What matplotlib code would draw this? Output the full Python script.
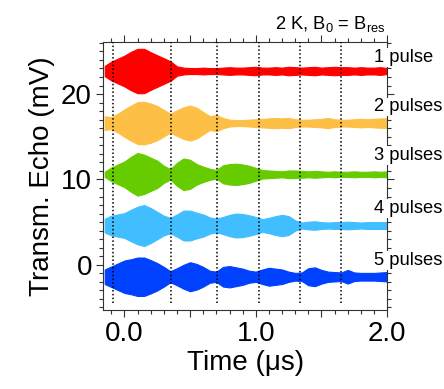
import numpy as np
import matplotlib
matplotlib.use('Agg')
import matplotlib.pyplot as plt
from matplotlib.ticker import MultipleLocator, FixedLocator, FixedFormatter

plt.rcParams['font.family'] = ['Liberation Sans', 'DejaVu Sans']
plt.rcParams['mathtext.fontset'] = 'custom'
plt.rcParams['mathtext.rm'] = 'Liberation Sans'
plt.rcParams['mathtext.it'] = 'Liberation Sans:italic'

time_us = np.round(np.arange(-0.15, 2.0001, 0.05), 2)

# half amplitude of each echo train (mV)
env_1 = [0.6, 1.1, 1.45, 1.8, 2.25, 2.6, 2.6, 2.2, 1.85, 1.5, 1.15, 0.55, 0.4, 0.35, 0.35,
         0.4, 0.35, 0.35, 0.4, 0.45, 0.4, 0.4, 0.45, 0.5, 0.4, 0.4, 0.45, 0.4, 0.5, 0.45,
         0.4, 0.45, 0.5, 0.4, 0.45, 0.5, 0.45, 0.45, 0.4, 0.45, 0.4, 0.4, 0.45, 0.35]
env_2 = [0.8, 0.7, 1.1, 1.6, 2.05, 2.45, 2.5, 2.3, 2.0, 1.55, 1.1, 1.5, 1.85, 2.05, 1.8,
         1.3, 0.8, 0.95, 0.6, 0.4, 0.35, 0.35, 0.4, 0.45, 0.5, 0.55, 0.6, 0.55, 0.6, 0.45,
         0.4, 0.4, 0.45, 0.5, 0.6, 0.45, 0.4, 0.4, 0.45, 0.5, 0.45, 0.5, 0.55, 0.55]
env_3 = [0.3, 0.8, 1.15, 1.5, 2.05, 2.5, 2.3, 1.95, 1.6, 1.0, 0.6, 1.35, 1.85, 1.7, 1.2,
         0.9, 0.65, 0.5, 1.05, 1.2, 1.25, 1.15, 1.0, 0.75, 0.5, 0.45, 0.4, 0.35, 0.45, 0.45,
         0.4, 0.35, 0.4, 0.35, 0.3, 0.35, 0.3, 0.3, 0.35, 0.3, 0.3, 0.35, 0.3, 0.35]
env_4 = [0.8, 1.15, 1.3, 1.45, 1.85, 2.2, 2.4, 2.05, 1.6, 1.15, 0.9, 1.3, 1.75, 1.75, 1.5,
         1.3, 0.95, 0.8, 1.0, 1.25, 1.4, 1.35, 1.2, 1.0, 0.75, 0.9, 1.1, 1.25, 1.1, 0.6,
         0.35, 0.45, 0.5, 0.4, 0.35, 0.4, 0.4, 0.45, 0.4, 0.35, 0.4, 0.4, 0.4, 0.4]
env_5 = [0.85, 1.2, 1.55, 1.9, 2.05, 2.25, 2.25, 1.95, 1.6, 1.15, 0.65, 1.0, 1.4, 1.7, 1.5,
         1.15, 0.7, 0.6, 1.15, 1.25, 1.1, 0.95, 0.7, 0.6, 0.85, 1.05, 0.95, 0.85, 0.6, 0.45,
         0.5, 1.0, 1.1, 0.8, 0.6, 0.55, 0.5, 0.8, 0.5, 0.45, 0.45, 0.45, 0.5, 0.55]

envelopes = [env_1, env_2, env_3, env_4, env_5]
offsets = [22.7, 16.6, 10.6, 4.6, -1.4]
labels = ['1 pulse', '2 pulses', '3 pulses', '4 pulses', '5 pulses']
label_y = [24.3, 18.5, 12.8, 6.6, 0.5]
colors = ['#FF0000', '#FDBF45', '#66CC00', '#40BEFF', '#0040FF']

# dotted markers of the pulse times (us)
pulse_times = [-0.085, 0.354, 0.703, 1.025, 1.335, 1.652]

fig = plt.figure(figsize=(4.44, 3.89), dpi=100)
ax = fig.add_axes([0.232, 0.203, 0.64, 0.689])

for env, off, c in zip(envelopes, offsets, colors):
    env = np.array(env)
    ax.fill_between(time_us, off - env, off + env, color=c, lw=0.8, ec=c, zorder=2)

ax.vlines(pulse_times, -4.5, 26.1, colors='black', linestyles=(0, (1, 1.5)), lw=1.1, zorder=3)

for lab, y in zip(labels, label_y):
    ax.text(1.9, y, lab, fontsize=13.2, ha='left', va='center', zorder=5, clip_on=False,
            bbox=dict(facecolor='white', edgecolor='none', pad=0.5))

ax.text(0.995, 1.05, r'2 K, B$_0$ = B$_{\mathrm{res}}$', transform=ax.transAxes,
        fontsize=13.2, ha='right', va='baseline')

ax.set_xlim(-0.163, 2.0)
ax.set_ylim(-5.3, 26.1)

ax.xaxis.set_major_locator(FixedLocator([0, 0.5, 1.0, 1.5, 2.0]))
ax.xaxis.set_major_formatter(FixedFormatter(['0.0', '', '1.0', '', '2.0']))
ax.xaxis.set_minor_locator(MultipleLocator(0.1))
ax.yaxis.set_major_locator(MultipleLocator(10))
ax.yaxis.set_minor_locator(MultipleLocator(1))

ax.tick_params(which='both', direction='out', top=True, right=True, width=0.8, labelsize=20, pad=3,
               color='#333333')
ax.tick_params(which='major', length=5)
ax.tick_params(which='minor', length=3)
for s in ax.spines.values():
    s.set_linewidth(0.8)
    s.set_color('#333333')

ax.set_xlabel('Time (μs)', fontsize=20, labelpad=2)
ax.set_ylabel('Transm. Echo (mV)', fontsize=20, labelpad=4)

fig.savefig('out.png', dpi=100)
